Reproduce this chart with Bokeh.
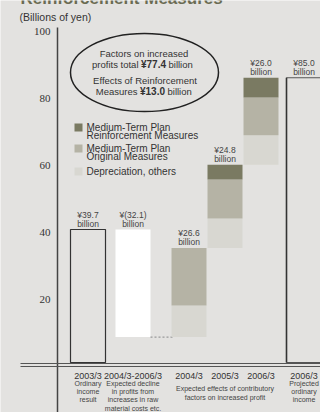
from bokeh.plotting import figure
from bokeh.models import Range1d, ColumnDataSource
from bokeh.core.properties import value
from bokeh.embed import file_html
from bokeh.resources import INLINE

# ---------------- data ----------------
result_2003 = 39.7
decline = 32.1
years = ["2004/3", "2005/3", "2006/3"]
depreciation = [9.4, 8.8, 8.8]
original = [17.2, 11.6, 11.3]
reinforcement = [0.0, 4.4, 5.9]
totals = [26.6, 24.8, 26.0]
projected = 85.0
y_ticks = [20, 40, 60, 80, 100]
factors_total = 77.4
reinf_total = 13.0

# ---------------- layout / style ----------------
W, H = 320, 412
BASE = 362.0      # pixel row of value 0
SCALE = 3.35      # pixels per billion yen
def v(pix):
    return (BASE - pix) / SCALE

BG = "#e3e2e0"
C_REINF = "#7a7a62"
C_ORIG = "#b5b3a5"
C_DEP = "#d8d7d1"
TXT = "#333333"
SANS = value("Liberation Sans")
SERIF = value("Liberation Serif")

bar_w = 35
left_2003, left_dec, left_proj = 70, 115, 286
left_years = [171, 207, 243]

p = figure(width=W, height=H, x_range=Range1d(0, W), y_range=Range1d(v(H), v(0)),
           output_backend="svg", toolbar_location=None,
           x_axis_type=None, y_axis_type=None, min_border=0)
p.min_border_left = p.min_border_right = p.min_border_top = p.min_border_bottom = 0
p.outline_line_color = None
p.background_fill_color = BG
p.border_fill_color = BG
for g in p.grid:
    g.visible = False

# title (cropped at top, as in the source page)
p.text(x=[20], y=[v(7)], text=["Reinforcement Measures"], text_font=SANS,
       text_font_size="17px", text_font_style="bold", text_color="#6a6b52",
       text_baseline="bottom", text_align="left")
p.text(x=[19], y=[v(16)], text=["(Billions of yen)"], text_font=SANS,
       text_font_size="10.5px", text_color=TXT, text_baseline="middle")

# axis line + tick labels
p.segment(x0=[57], y0=[100], x1=[57], y1=[v(H)], line_color="#444444", line_width=1.5)
p.text(x=[50] * len(y_ticks), y=y_ticks, text=[str(t) for t in y_ticks], text_font=SERIF,
       text_font_size="11px", text_color=TXT, text_align="right", text_baseline="middle",
       y_offset=4)

# baseline double line
p.segment(x0=[20, 20], y0=[v(363), v(366)], x1=[W, W], y1=[v(363), v(366)],
          line_color="#555555", line_width=1)

# 2003/3 result bar (outlined)
p.quad(left=[left_2003], right=[left_2003 + bar_w], bottom=[0], top=[result_2003],
       fill_color=None, line_color="#333333", line_width=1.2)
# decline bar (white)
start = result_2003 - decline
p.quad(left=[left_dec], right=[left_dec + bar_w], bottom=[start], top=[result_2003],
       fill_color="white", line_color=None)
p.segment(x0=[left_dec + bar_w], y0=[start], x1=[left_years[0] + 2], y1=[start],
          line_color="#999999", line_width=1.2, line_dash="2 2")

# stacked contribution bars
dep_b, dep_t, orig_t, reinf_t = [], [], [], []
cum = start
for d, o, r in zip(depreciation, original, reinforcement):
    dep_b.append(cum)
    dep_t.append(cum + d)
    orig_t.append(cum + d + o)
    reinf_t.append(cum + d + o + r)
    cum = cum + d + o + r
src = ColumnDataSource(dict(
    left=left_years, right=[l + bar_w for l in left_years],
    dep_b=dep_b, dep_t=dep_t, orig_t=orig_t, reinf_t=reinf_t))
p.quad(left="left", right="right", bottom="dep_b", top="dep_t", source=src,
       fill_color=C_DEP, line_color=None)
p.quad(left="left", right="right", bottom="dep_t", top="orig_t", source=src,
       fill_color=C_ORIG, line_color=None)
p.quad(left="left", right="right", bottom="orig_t", top="reinf_t", source=src,
       fill_color=C_REINF, line_color=None)

# projected bar
p.quad(left=[left_proj], right=[left_proj + bar_w], bottom=[0], top=[projected],
       fill_color=None, line_color="#555555", line_width=1)
p.segment(x0=[left_proj], y0=[0], x1=[left_proj], y1=[projected],
          line_color="#333333", line_width=1.6)

# value labels above bars
lab_x = [left_2003 + bar_w / 2, left_dec + bar_w / 2] + [l + bar_w / 2 for l in left_years] + [left_proj + bar_w / 2]
lab_y = [result_2003, result_2003] + reinf_t + [projected]
lab_t = [f"¥{result_2003:.1f}", f"¥({decline:.1f})"] + [f"¥{t:.1f}" for t in totals] + [f"¥{projected:.1f}"]
p.text(x=lab_x, y=lab_y, text=lab_t, text_font=SANS, text_font_size="8.5px",
       text_color="#444444", text_align="center", text_baseline="middle", y_offset=-15)
p.text(x=lab_x, y=lab_y, text=["billion"] * len(lab_x), text_font=SANS, text_font_size="8.5px",
       text_color="#444444", text_align="center", text_baseline="middle", y_offset=-6)

# ellipse callout
p.ellipse(x=[144], y=[v(72)], width=[148], height=[78], width_units="screen",
          height_units="screen", fill_color=None, line_color="#222222", line_width=1.5)
p.text(x=[143.5, 144.5], y=[v(53), v(80)], text=["Factors on increased", "Effects of Reinforcement"],
       text_font=SANS, text_font_size="9.5px", text_color=TXT, text_align="center",
       text_baseline="middle")
p.text(x=[138, 137], y=[v(64), v(91)], text=["profits total", "Measures"],
       text_font=SANS, text_font_size="9.5px", text_color=TXT, text_align="right",
       text_baseline="middle")
p.text(x=[140.5, 139.5], y=[v(64), v(91)], text=[f"¥{factors_total:.1f}", f"¥{reinf_total:.1f}"],
       text_font=SANS, text_font_size="10px", text_font_style="bold", text_color=TXT,
       text_align="left", text_baseline="middle")
p.text(x=[168, 167], y=[v(64), v(91)], text=["billion", "billion"],
       text_font=SANS, text_font_size="9.5px", text_color=TXT, text_align="left",
       text_baseline="middle")

# legend
p.scatter(x=[78, 78, 78], y=[v(127), v(148), v(171)], marker="square", size=8,
          fill_color=[C_REINF, C_ORIG, C_DEP], line_color=None)
leg_lines = ["Medium-Term Plan", "Reinforcement Measures", "Medium-Term Plan",
             "Original Measures", "Depreciation, others"]
leg_y = [127, 135, 148, 156, 171]
p.text(x=[86] * 5, y=[v(t) for t in leg_y], text=leg_lines, text_font=SANS,
       text_font_size="10px", text_color=TXT, text_align="left", text_baseline="middle")

# category labels
cat_x = lab_x
cat_main = ["2003/3", "2004/3-2006/3"] + years + ["2006/3"]
p.text(x=cat_x, y=[v(375)] * 6, text=cat_main, text_font=SANS, text_font_size="9px",
       text_color=TXT, text_align="center", text_baseline="middle")
sub_x, sub_y, sub_t = [], [], []
subs = [(cat_x[0], ["Ordinary", "income", "result"]),
        (cat_x[1], ["Expected decline", "in profits from", "increases in raw", "material costs etc."]),
        (cat_x[5], ["Projected", "ordinary", "income"])]
for cx, lines in subs:
    for i, s in enumerate(lines):
        sub_x.append(cx); sub_y.append(v(383 + 8.2 * i)); sub_t.append(s)
mid = cat_x[3]
sub_x += [mid, mid]; sub_y += [v(388), v(397)]
sub_t += ["Expected effects of contributory", "factors on increased profit"]
p.text(x=sub_x, y=sub_y, text=sub_t, text_font=SANS, text_font_size="7px",
       text_color="#444444", text_align="center", text_baseline="middle")

open("out.html", "w").write(file_html(p, INLINE))
